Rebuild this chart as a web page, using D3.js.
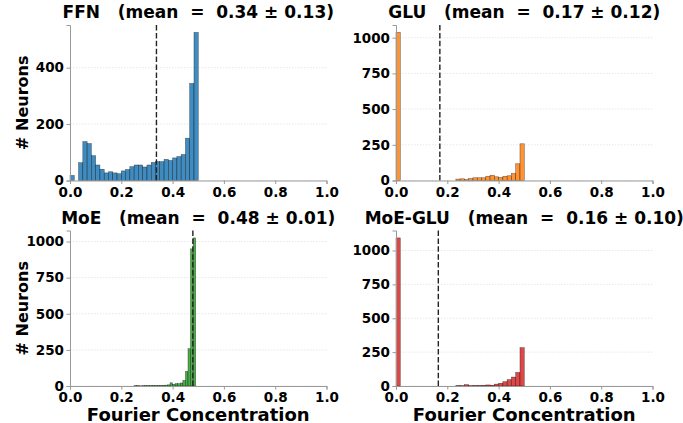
<!DOCTYPE html>
<html>
<head>
<meta charset="utf-8">
<script src="https://cdn.jsdelivr.net/npm/d3@7"></script>
<style>
  body { margin: 0; background: #fff; }
  text { font-family: "DejaVu Sans", sans-serif; font-weight: bold; fill: #000; }
</style>
</head>
<body>
<div id="chart"></div>
<script>
// histogram counts (bins start at 0.0)
var ffnCounts = [18, 0, 63, 138, 131, 88, 55, 40, 27, 31, 27, 24, 34, 39, 49, 55, 55, 48, 55, 64, 67, 67, 75, 71, 80, 85, 92, 150, 344, 525];
var gluCounts = [1037, 0, 0, 0, 0, 0, 0, 0, 0, 0, 0, 0, 0, 0, 10, 12, 7, 14, 19, 19, 19, 30, 37, 26, 21, 30, 33, 49, 117, 257];
var moeCounts = [0, 0, 0, 0, 0, 0, 0, 0, 0, 0, 0, 0, 0, 0, 0, 0, 0, 0, 0, 0, 0, 0, 0, 0, 0, 2, 3, 1, 2, 3, 2, 3, 4, 3, 4, 5, 4, 6, 8, 22,
                 12, 16, 16, 21, 39, 101, 258, 949, 1025, 0];
var moeGluCounts = [1093, 0, 0, 0, 0, 0, 0, 0, 0, 0, 0, 0, 0, 0, 3, 2, 10, 2, 4, 4, 5, 8, 6, 14, 20, 32, 47, 66, 100, 283];

var panelNames = ["FFN", "GLU", "MoE", "MoE-GLU"];
var meanValues = [0.337, 0.171, 0.479, 0.165];
var meanLabels = ["0.34", "0.17", "0.48", "0.16"];
var stdLabels = ["0.13", "0.12", "0.01", "0.10"];
var binCounts = [30, 30, 50, 30];
var yTicks = [[0, 200, 400], [0, 250, 500, 750, 1000], [0, 250, 500, 750, 1000], [0, 250, 500, 750, 1000]];
var xTicks = [0, 0.2, 0.4, 0.6, 0.8, 1.0];
var colors = ["#1f77b4", "#ff7f0e", "#2ca02c", "#d62728"];
var allCounts = [ffnCounts, gluCounts, moeCounts, moeGluCounts];

var width = 683, height = 423;
var pw = 256.5, ph = 155.5;
var origins = [[70, 25], [396, 25], [70, 230.5], [396, 230.5]];

var svg = d3.select("#chart").append("svg")
    .attr("width", width)
    .attr("height", height);

panelNames.forEach(function(name, p) {
  var counts = allCounts[p];
  var binW = 0.5 / binCounts[p];
  var g = svg.append("g")
      .attr("transform", "translate(" + origins[p][0] + "," + origins[p][1] + ")");

  var x = d3.scaleLinear().domain([0, 1]).range([0, pw]);
  var y = d3.scaleLinear().domain([0, d3.max(counts) * 1.05]).range([ph, 0]);

  // faint grid
  g.selectAll(".grid").data(yTicks[p]).enter().append("line")
      .attr("x1", 0).attr("x2", pw)
      .attr("y1", d => y(d)).attr("y2", d => y(d))
      .attr("stroke", "#d9d9d9").attr("stroke-width", 0.6)
      .attr("stroke-dasharray", "1.5,1.5");

  // bars
  g.selectAll(".bar").data(counts).enter().append("rect")
      .attr("x", (d, i) => x(i * binW))
      .attr("width", x(binW) - x(0))
      .attr("y", d => y(d))
      .attr("height", d => ph - y(d))
      .attr("fill", colors[p]).attr("fill-opacity", 0.85)
      .attr("stroke", "#000").attr("stroke-opacity", 0.6).attr("stroke-width", 0.5);

  // mean line
  g.append("line")
      .attr("x1", x(meanValues[p])).attr("x2", x(meanValues[p]))
      .attr("y1", 0).attr("y2", ph)
      .attr("stroke", "#222").attr("stroke-width", 1.4)
      .attr("stroke-dasharray", "5.5,2.4");

  // axes
  var xAxis = g.append("g")
      .attr("transform", "translate(0," + ph + ")")
      .call(d3.axisBottom(x).tickValues(xTicks).tickFormat(d3.format(".1f")).tickSize(3.5).tickPadding(3));
  var yAxis = g.append("g")
      .call(d3.axisLeft(y).tickValues(yTicks[p]).tickFormat(d3.format("d")).tickSize(3.5).tickPadding(2.5));
  [xAxis, yAxis].forEach(function(a) {
    a.select(".domain").attr("stroke", "#999").attr("stroke-width", 1);
    a.selectAll(".tick line").attr("stroke", "#999");
    a.selectAll(".tick text").style("font-size", "13.5px").style("font-family", "DejaVu Sans").style("font-weight", "bold").attr("fill", "#000");
  });

  // title
  g.append("text")
      .attr("x", pw / 2).attr("y", -7)
      .attr("text-anchor", "middle")
      .style("font-size", "17px")
      .style("white-space", "pre")
      .text(name + "   (mean  =  " + meanLabels[p] + " \u00b1 " + stdLabels[p] + ")");

  if (p % 2 === 0) {
    g.append("text")
        .attr("transform", "translate(-42," + (ph / 2) + ") rotate(-90)")
        .attr("text-anchor", "middle")
        .style("font-size", "16px")
        .text("# Neurons");
  }
  if (p >= 2) {
    g.append("text")
        .attr("x", pw / 2).attr("y", ph + 34.5)
        .attr("text-anchor", "middle")
        .style("font-size", "18px")
        .text("Fourier Concentration");
  }
});
</script>
</body>
</html>
